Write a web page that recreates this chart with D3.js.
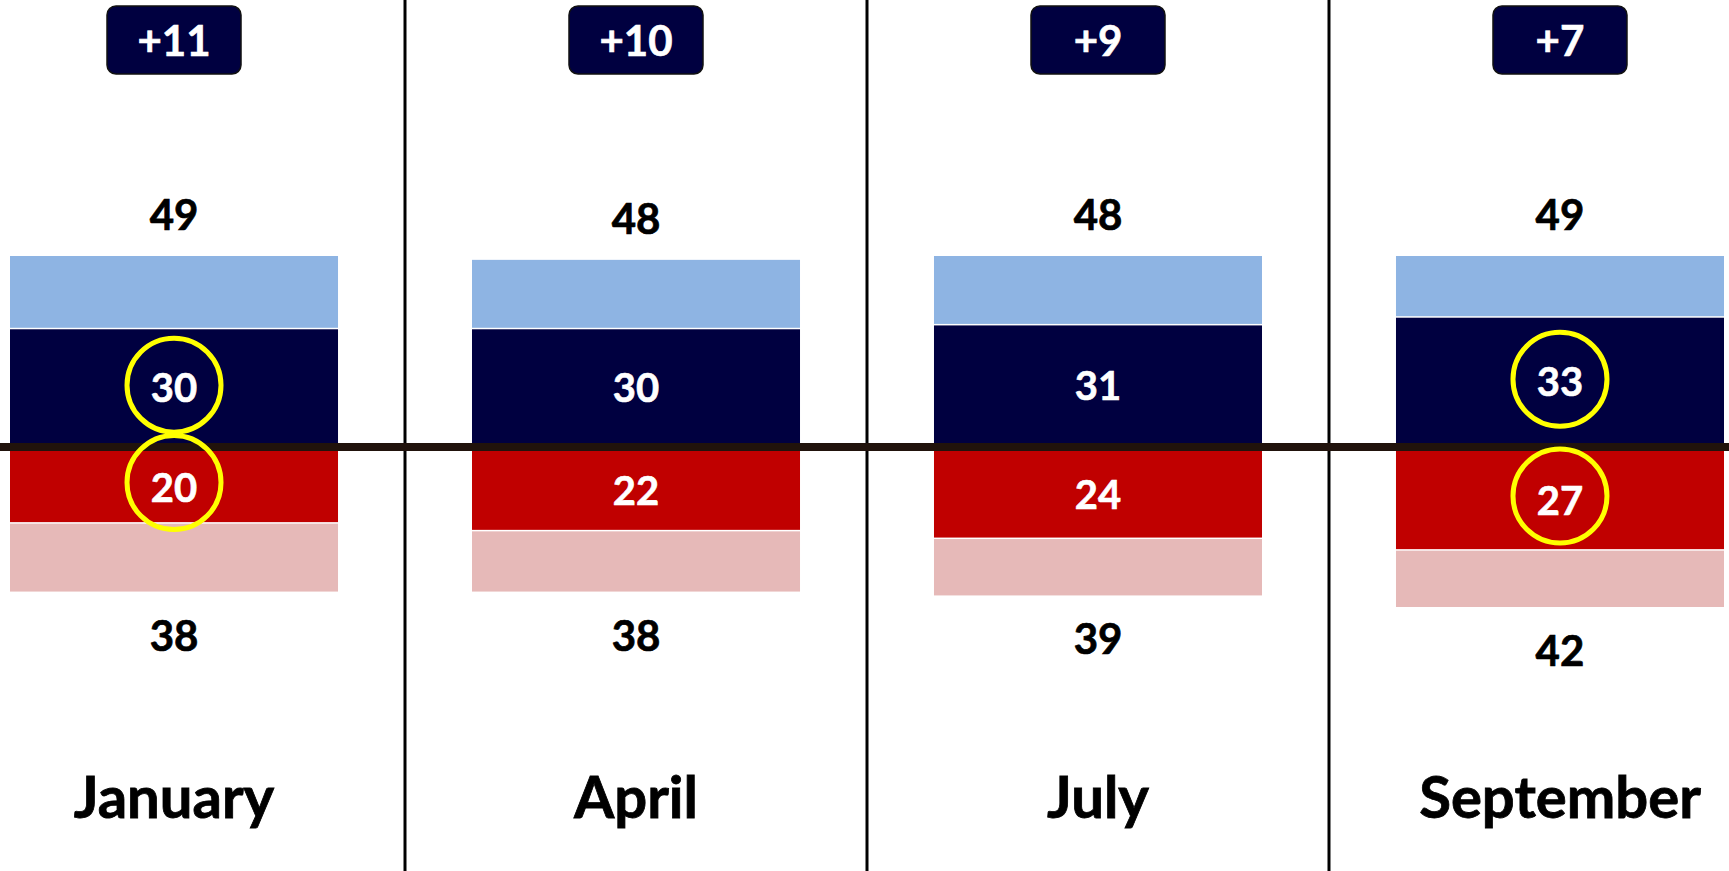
<!DOCTYPE html>
<html>
  <head>
    <meta charset="utf-8"/>
    <title>Party ID by month</title>
    <style>
      body { margin: 0; background: #fff; }
      svg { display: block; font-family: Lato, "Open Sans", sans-serif; font-weight: 700; }
      .outer { fill: #000; stroke: #000; stroke-width: 0.7px; font-size: 42px; }
      .inner { fill: #fff; stroke: #fff; stroke-width: 0.6px; font-size: 40px; }
      .badge-text { fill: #fff; stroke: #fff; stroke-width: 0.6px; font-size: 42px; }
      .month { fill: #000; stroke: #000; stroke-width: 0.8px; font-size: 58px; }
    </style>
    <script src="https://d3js.org/d3.v7.min.js"></script>
  </head>
  <body>
    <svg id="chart" width="1729" height="871"></svg>
    <script>
      // values
      var months = ["January", "April", "July", "September"];
      var blueTotal = [49, 48, 49, 49];     // bar height, light + dark blue (July bar reaches ~49)
      var blueLabels = [49, 48, 48, 49];    // printed above the bar
      var blueCore = [30, 30, 31, 33];      // dark blue part
      var redCore = [20, 22, 24, 27];       // dark red part
      var redTotal = [38, 38, 39, 42];      // dark + light red
      var margins = ["+11", "+10", "+9", "+7"];
      var circled = ["January", "September"];

      var width = 1729, height = 871;
      var svg = d3.select("#chart");

      var x = d3.scaleBand()
        .domain(months)
        .range([10, 1724])
        .paddingInner(0.29)
        .paddingOuter(0);

      // zero sits at 445, one point = ~3.86px
      var y = d3.scaleLinear()
        .domain([0, 49])
        .range([445, 256]);

      var colors = {
        lightBlue: "#8eb4e3",
        navy: "#000040",
        red: "#c00000",
        pink: "#e6b9b8"
      };

      var rows = months.map(function(m, i) {
        return {
          month: m,
          blueTotal: blueTotal[i],
          blueLabel: blueLabels[i],
          blueCore: blueCore[i],
          redCore: redCore[i],
          redTotal: redTotal[i],
          margin: margins[i]
        };
      });

      var cols = svg.selectAll(".col")
        .data(rows)
        .enter().append("g")
        .attr("class", "col");

      // light blue
      cols.append("rect")
        .attr("x", function(d) { return x(d.month); })
        .attr("width", x.bandwidth())
        .attr("y", function(d) { return y(d.blueTotal); })
        .attr("height", function(d) { return y(d.blueCore) - y(d.blueTotal) - 1.5; })
        .attr("fill", colors.lightBlue);

      // navy
      cols.append("rect")
        .attr("x", function(d) { return x(d.month); })
        .attr("width", x.bandwidth())
        .attr("y", function(d) { return y(d.blueCore); })
        .attr("height", function(d) { return y(0) - y(d.blueCore); })
        .attr("fill", colors.navy);

      // red
      cols.append("rect")
        .attr("x", function(d) { return x(d.month); })
        .attr("width", x.bandwidth())
        .attr("y", y(0))
        .attr("height", function(d) { return y(-d.redCore) - y(0); })
        .attr("fill", colors.red);

      // pink
      cols.append("rect")
        .attr("x", function(d) { return x(d.month); })
        .attr("width", x.bandwidth())
        .attr("y", function(d) { return y(-d.redCore) + 1.5; })
        .attr("height", function(d) { return y(-d.redTotal) - y(-d.redCore) - 1.5; })
        .attr("fill", colors.pink);

      var cx = function(d) { return x(d.month) + x.bandwidth() / 2; };

      // totals above / below
      cols.append("text")
        .attr("class", "outer")
        .attr("text-anchor", "middle")
        .attr("x", cx)
        .attr("y", function(d) { return y(d.blueTotal) - 26; })
        .text(function(d) { return d.blueLabel; });

      cols.append("text")
        .attr("class", "outer")
        .attr("text-anchor", "middle")
        .attr("x", cx)
        .attr("y", function(d) { return y(-d.redTotal) + 59; })
        .text(function(d) { return d.redTotal; });

      // inner numbers
      var blueMid = function(d) { return (y(d.blueCore) + y(0)) / 2; };
      var redMid = function(d) { return (y(0) + y(-d.redCore)) / 2 + 3; };

      cols.append("text")
        .attr("class", "inner")
        .attr("text-anchor", "middle")
        .attr("dominant-baseline", "central")
        .attr("x", cx)
        .attr("y", blueMid)
        .text(function(d) { return d.blueCore; });

      cols.append("text")
        .attr("class", "inner")
        .attr("text-anchor", "middle")
        .attr("dominant-baseline", "central")
        .attr("x", cx)
        .attr("y", redMid)
        .text(function(d) { return d.redCore; });

      // month names
      cols.append("text")
        .attr("class", "month")
        .attr("text-anchor", "middle")
        .attr("x", cx)
        .attr("y", 818)
        .text(function(d) { return d.month; });

      // margin badges
      cols.append("rect")
        .attr("x", function(d) { return cx(d) - 67; })
        .attr("y", 6)
        .attr("width", 134)
        .attr("height", 68)
        .attr("rx", 9)
        .attr("fill", colors.navy)
        .attr("stroke", "#111")
        .attr("stroke-width", 1.5);

      cols.append("text")
        .attr("class", "badge-text")
        .attr("text-anchor", "middle")
        .attr("x", cx)
        .attr("y", 56)
        .text(function(d) { return d.margin; });

      // vertical dividers between columns
      var step = x.step();
      svg.selectAll(".divider")
        .data(months.slice(1))
        .enter().append("line")
        .attr("class", "divider")
        .attr("x1", function(m) { return x(m) - (step - x.bandwidth()) / 2; })
        .attr("x2", function(m) { return x(m) - (step - x.bandwidth()) / 2; })
        .attr("y1", 0)
        .attr("y2", height)
        .attr("stroke", "#000")
        .attr("stroke-width", 3);

      // zero line
      svg.append("line")
        .attr("x1", 0)
        .attr("x2", width)
        .attr("y1", y(0) + 2)
        .attr("y2", y(0) + 2)
        .attr("stroke", "#21130c")
        .attr("stroke-width", 8);

      // yellow rings on the highlighted months
      var hl = rows.filter(function(d) { return circled.indexOf(d.month) >= 0; });
      var rings = svg.selectAll(".ring")
        .data(hl)
        .enter().append("g")
        .attr("class", "ring");

      rings.append("circle")
        .attr("cx", cx)
        .attr("cy", function(d) { return blueMid(d) - 2; })
        .attr("r", 47)
        .attr("fill", "none")
        .attr("stroke", "#ffff00")
        .attr("stroke-width", 5);

      rings.append("circle")
        .attr("cx", cx)
        .attr("cy", function(d) { return redMid(d) - 4; })
        .attr("r", 47)
        .attr("fill", "none")
        .attr("stroke", "#ffff00")
        .attr("stroke-width", 5);
    </script>
  </body>
</html>
